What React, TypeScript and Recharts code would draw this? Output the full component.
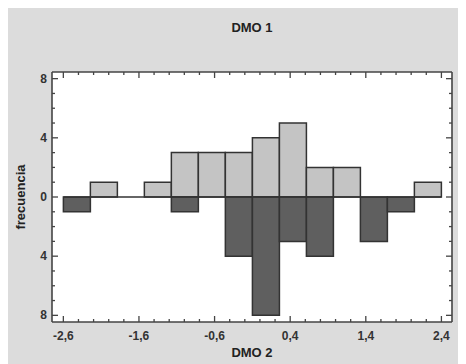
import { ComposedChart, Bar, XAxis, YAxis, ReferenceLine } from 'recharts'

// histogram of 14 bins between -2.6 and 2.4 (bin centres)
const binCenters = [-2.421, -2.064, -1.707, -1.35, -0.993, -0.636, -0.279, 0.079, 0.436, 0.793, 1.15, 1.507, 1.864, 2.221]
const lightCounts = [0, 1, 0, 1, 3, 3, 3, 4, 5, 2, 2, 0, 0, 1]
const darkCounts = [1, 0, 0, 0, 1, 0, 4, 8, 3, 4, 0, 3, 1, 0]
const binEdges = [-2.6, 2.4]

const xMajorTicks = [-2.6, -1.6, -0.6, 0.4, 1.4, 2.4]
const yMajorTicks = [-8, -4, 0, 4, 8]
const yMinorTicks = [-7, -6, -5, -3, -2, -1, 1, 2, 3, 5, 6, 7]

const data = binCenters.map((c, i) => ({
  c,
  light: lightCounts[i],
  dark: -darkCounts[i],
}))

const xTicks: number[] = []
xMajorTicks.forEach((t, i) => {
  xTicks.push(t)
  if (i < xMajorTicks.length - 1) {
    for (let k = 1; k < 5; k++) xTicks.push(Math.round((t + k * 0.2) * 10) / 10)
  }
})
const yTicks = [...yMajorTicks, ...yMinorTicks].sort((a, b) => a - b)

const FONT = '"Liberation Sans", Arial, sans-serif'
const FRAME = '#444'
const axisLine = { stroke: FRAME, strokeWidth: 1.6 }

const isMajor = (v: number, majors: number[]) => majors.some((m) => Math.abs(m - v) < 1e-6)
const fmtX = (v: number) => v.toFixed(1).replace('.', ',')

function makeTick(side: 'bottom' | 'top' | 'left' | 'right', majors: number[], withLabel: boolean) {
  return (props: any) => {
    const { x, y, payload } = props
    const v = payload.value as number
    const major = isMajor(v, majors)
    const len = major ? 6 : 3
    let line
    if (side === 'bottom') line = <line x1={x} y1={y} x2={x} y2={y - len} />
    else if (side === 'top') line = <line x1={x} y1={y} x2={x} y2={y + len} />
    else if (side === 'left') line = <line x1={x} y1={y} x2={x + len} y2={y} />
    else line = <line x1={x} y1={y} x2={x - len} y2={y} />
    let label = null
    if (withLabel && major) {
      if (side === 'bottom') {
        label = (
          <text x={x} y={y + 18} textAnchor="middle" fontSize={12} fontWeight="bold" fill="#333" fontFamily={FONT}>
            {fmtX(v)}
          </text>
        )
      } else {
        label = (
          <text x={x - 5} y={y + 4} textAnchor="end" fontSize={12} fontWeight="bold" fill="#333" fontFamily={FONT}>
            {Math.abs(v)}
          </text>
        )
      }
    }
    return (
      <g>
        <g stroke={FRAME} strokeWidth={1.3}>{line}</g>
        {label}
      </g>
    )
  }
}

const titleStyle = { fontFamily: FONT, fontSize: 13, fontWeight: 'bold', fill: '#222' }

export default function App() {
  return (
    <div style={{ width: 459, height: 357, margin: '-1px 0 0 -1px', background: '#dcdcdc' }}>
      <ComposedChart
        width={459}
        height={357}
        data={data}
        stackOffset="sign"
        barCategoryGap={0}
        margin={{ top: 0, right: 0, bottom: 0, left: 0 }}
      >
        <rect x={45} y={65} width={400} height={250} fill="#fff" />
        <XAxis
          xAxisId="num"
          dataKey="c"
          type="number"
          domain={[-2.75, 2.54]}
          allowDataOverflow
          ticks={xTicks}
          interval={0}
          height={42}
          tickSize={0}
          tickMargin={0}
          tickLine={false}
          axisLine={axisLine}
          tick={makeTick('bottom', xMajorTicks, true)}
          label={{ value: 'DMO 2', position: 'insideBottom', offset: 7, style: titleStyle }}
        />
        <XAxis
          xAxisId="top"
          dataKey="c"
          orientation="top"
          type="number"
          domain={[-2.75, 2.54]}
          allowDataOverflow
          ticks={xTicks}
          interval={0}
          height={65}
          tickSize={0}
          tickMargin={0}
          tickLine={false}
          axisLine={axisLine}
          tick={makeTick('top', xMajorTicks, false)}
          label={{ value: 'DMO 1', position: 'insideTop', offset: 16, style: titleStyle }}
        />
        <YAxis
          yAxisId="left"
          type="number"
          domain={[-8.45, 8.45]}
          allowDataOverflow
          ticks={yTicks}
          interval={0}
          width={45}
          tickSize={0}
          tickMargin={0}
          tickLine={false}
          axisLine={axisLine}
          tick={makeTick('left', yMajorTicks, true)}
          label={{
            value: 'frecuencia',
            angle: -90,
            position: 'insideLeft',
            offset: 13,
            style: { ...titleStyle, textAnchor: 'middle' },
          }}
        />
        <YAxis
          yAxisId="right"
          orientation="right"
          type="number"
          domain={[-8.45, 8.45]}
          allowDataOverflow
          ticks={yTicks}
          interval={0}
          width={14}
          tickSize={0}
          tickMargin={0}
          tickLine={false}
          axisLine={axisLine}
          tick={makeTick('right', yMajorTicks, false)}
        />
        <Bar
          xAxisId="num"
          yAxisId="left"
          dataKey="light"
          stackId="h"
          fill="#c4c4c4"
          stroke="#333"
          strokeWidth={1.5}
          isAnimationActive={false}
        />
        <Bar
          xAxisId="num"
          yAxisId="left"
          dataKey="dark"
          stackId="h"
          fill="#5f5f5f"
          stroke="#333"
          strokeWidth={1.5}
          isAnimationActive={false}
        />
        <Bar xAxisId="top" yAxisId="right" dataKey="light" fill="none" stroke="none" isAnimationActive={false} />
        <ReferenceLine
          xAxisId="num"
          yAxisId="left"
          segment={[
            { x: binEdges[0], y: 0 },
            { x: binEdges[1], y: 0 },
          ]}
          stroke="#333"
          strokeWidth={1.5}
        />
      </ComposedChart>
    </div>
  )
}
